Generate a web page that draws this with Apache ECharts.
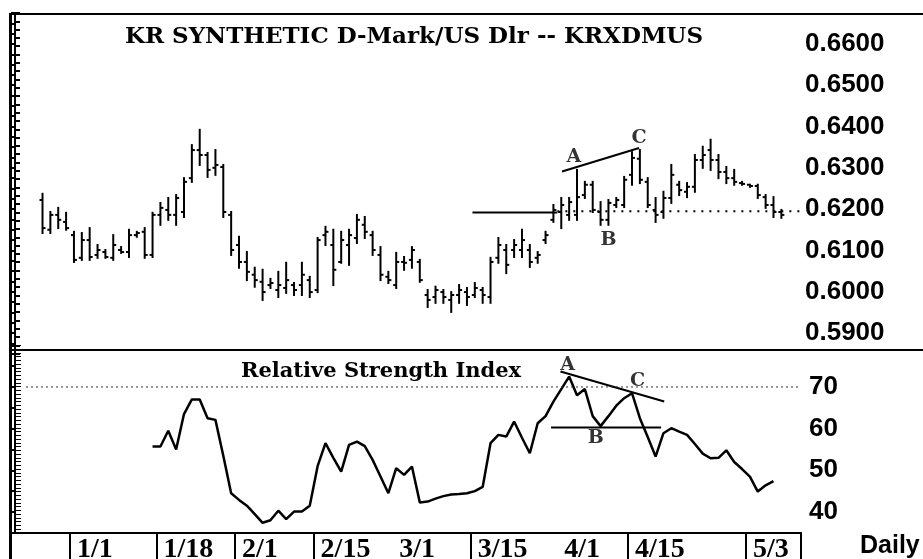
<!DOCTYPE html>
<html>
<head>
<meta charset="utf-8">
<script src="https://cdn.jsdelivr.net/npm/echarts/dist/echarts.min.js"></script>
<style>
  html, body { margin: 0; padding: 0; background: #fff; }
  #chart { width: 923px; height: 559px; }
</style>
</head>
<body>
<div id="chart"></div>
<script>
// trading day slots on the x axis
var categories = Array.from({ length: 100 }, function (_, i) { return String(i); });

// OHLC bars, first bar sits in slot barStart
var barStart = 3;
var opens = [
  0.6222, 0.6150, 0.6186, 0.6169, 0.6137, 0.6082, 0.6125, 0.6089, 0.6096, 0.6082,
  0.6101, 0.6096, 0.6137, 0.6145, 0.6089, 0.6186, 0.6198, 0.6186, 0.6193, 0.6275,
  0.6343, 0.6331, 0.6300, 0.6302, 0.6186, 0.6113, 0.6072, 0.6041, 0.6024, 0.6016,
  0.6004, 0.6009, 0.6016, 0.6016, 0.6028, 0.6004, 0.6137, 0.6113, 0.6072, 0.6113,
  0.6130, 0.6162, 0.6137, 0.6089, 0.6036, 0.6016, 0.6072, 0.6077, 0.6072, 0.5992,
  0.5987, 0.5999, 0.5980, 0.5992, 0.5999, 0.5992, 0.6004, 0.5987, 0.6082, 0.6101,
  0.6101, 0.6101, 0.6101, 0.6082, 0.6125, 0.6174, 0.6193, 0.6186, 0.6186, 0.6234,
  0.6259, 0.6193, 0.6174, 0.6210, 0.6210, 0.6283, 0.6322, 0.6266, 0.6198, 0.6193,
  0.6227, 0.6259, 0.6242, 0.6254, 0.6319, 0.6343, 0.6319, 0.6290, 0.6275, 0.6263,
  0.6259, 0.6256, 0.6229, 0.6210, 0.6193
];
var highs = [
  0.6237, 0.6193, 0.6203, 0.6191, 0.6145, 0.6142, 0.6154, 0.6113, 0.6101, 0.6137,
  0.6108, 0.6150, 0.6145, 0.6154, 0.6191, 0.6215, 0.6227, 0.6234, 0.6275, 0.6355,
  0.6392, 0.6336, 0.6343, 0.6307, 0.6193, 0.6133, 0.6096, 0.6058, 0.6053, 0.6031,
  0.6048, 0.6070, 0.6021, 0.6070, 0.6036, 0.6130, 0.6157, 0.6150, 0.6145, 0.6150,
  0.6186, 0.6181, 0.6145, 0.6108, 0.6048, 0.6094, 0.6084, 0.6108, 0.6077, 0.6004,
  0.6012, 0.6004, 0.5999, 0.6016, 0.6009, 0.6021, 0.6009, 0.6082, 0.6130, 0.6113,
  0.6125, 0.6150, 0.6113, 0.6096, 0.6145, 0.6210, 0.6227, 0.6227, 0.6295, 0.6266,
  0.6266, 0.6217, 0.6222, 0.6227, 0.6278, 0.6338, 0.6343, 0.6275, 0.6227, 0.6242,
  0.6307, 0.6266, 0.6263, 0.6331, 0.6351, 0.6368, 0.6331, 0.6302, 0.6295, 0.6266,
  0.6259, 0.6259, 0.6234, 0.6229, 0.6198
];
var lows = [
  0.6142, 0.6142, 0.6154, 0.6150, 0.6072, 0.6077, 0.6077, 0.6082, 0.6082, 0.6077,
  0.6094, 0.6084, 0.6133, 0.6082, 0.6084, 0.6162, 0.6174, 0.6162, 0.6181, 0.6266,
  0.6307, 0.6278, 0.6283, 0.6181, 0.6089, 0.6058, 0.6028, 0.6012, 0.5980, 0.6009,
  0.5987, 0.5997, 0.5992, 0.5992, 0.5987, 0.5999, 0.6113, 0.6016, 0.6070, 0.6065,
  0.6118, 0.6130, 0.6089, 0.6028, 0.6021, 0.6009, 0.6053, 0.6058, 0.6024, 0.5963,
  0.5973, 0.5973, 0.5951, 0.5973, 0.5968, 0.5987, 0.5973, 0.5973, 0.6070, 0.6045,
  0.6084, 0.6084, 0.6060, 0.6070, 0.6118, 0.6169, 0.6154, 0.6174, 0.6174, 0.6227,
  0.6193, 0.6162, 0.6162, 0.6205, 0.6205, 0.6259, 0.6263, 0.6205, 0.6169, 0.6179,
  0.6215, 0.6234, 0.6229, 0.6242, 0.6300, 0.6295, 0.6275, 0.6263, 0.6259, 0.6259,
  0.6254, 0.6227, 0.6203, 0.6181, 0.6179
];
var closes = [
  0.6154, 0.6186, 0.6174, 0.6154, 0.6077, 0.6125, 0.6084, 0.6101, 0.6084, 0.6113,
  0.6096, 0.6137, 0.6142, 0.6089, 0.6186, 0.6203, 0.6186, 0.6227, 0.6266, 0.6343,
  0.6331, 0.6295, 0.6307, 0.6193, 0.6101, 0.6072, 0.6048, 0.6028, 0.5999, 0.6021,
  0.6016, 0.6028, 0.6004, 0.6041, 0.5999, 0.6125, 0.6145, 0.6053, 0.6125, 0.6137,
  0.6174, 0.6145, 0.6101, 0.6041, 0.6028, 0.6072, 0.6070, 0.6101, 0.6028, 0.5980,
  0.6004, 0.5987, 0.5992, 0.6004, 0.5987, 0.6009, 0.5992, 0.6072, 0.6113, 0.6065,
  0.6113, 0.6125, 0.6072, 0.6089, 0.6137, 0.6198, 0.6210, 0.6217, 0.6229, 0.6259,
  0.6198, 0.6174, 0.6215, 0.6222, 0.6271, 0.6324, 0.6271, 0.6210, 0.6186, 0.6227,
  0.6283, 0.6246, 0.6254, 0.6319, 0.6331, 0.6319, 0.6290, 0.6275, 0.6266, 0.6261,
  0.6256, 0.6234, 0.6210, 0.6193, 0.6186
];

// RSI, first value in slot rsiStart
var rsiStart = 17;
var rsi = [
  55.7, 55.7, 59.5, 55.0, 63.5, 67.0, 67.0, 62.5, 62.1, 53.5,
  44.5, 42.9, 41.5, 39.5, 37.4, 38.0, 40.3, 38.3, 40.1, 40.1,
  41.5, 51.0, 56.5, 53.0, 49.7, 56.1, 56.9, 55.8, 52.5, 48.5,
  44.5, 50.5, 48.9, 50.9, 42.3, 42.5, 43.2, 43.8, 44.2, 44.3,
  44.5, 45.0, 46.0, 56.5, 58.5, 58.1, 61.7, 57.8, 54.1, 61.3,
  63.0, 66.5, 69.5, 72.5, 68.0, 69.5, 63.0, 60.6, 63.0, 65.5,
  67.3, 68.5, 62.5, 58.0, 53.3, 58.9, 60.1, 59.3, 58.5, 56.3,
  54.0, 52.9, 53.0, 54.8, 52.0, 50.3, 48.5, 44.9, 46.4, 47.4
];

// date axis: separators and labels (slot numbers)
var tickDays = [7, 18, 28, 38, 58, 78, 93];
var labelDays = [7, 18, 28, 38, 48, 58, 69, 78, 93];
var dateLabels = ['1/1', '1/18', '2/1', '2/15', '3/1', '3/15', '4/1', '4/15', '5/3'];

// hand drawn studies, x in slot units
var priceAC = [[69.6, 0.6291], [79.4, 0.6348]];
var priceSupport = [[58.2, 0.6192], [69.0, 0.6192]];
var priceSupportDots = [[69.0, 0.6195], [100, 0.6195]];
var rsiAC = [[69.4, 73.7], [82.6, 66.5]];
var rsiB = [[68.2, 60.3], [82.2, 60.3]];
var rsi70 = [[1.4, 70], [100, 70]];
var markNames = ['A', 'B', 'C'];
var priceMarkX = [71.1, 75.5, 79.4];
var priceMarkY = [0.6326, 0.6125, 0.6372];
var rsiMarkX = [70.3, 73.9, 79.2];
var rsiMarkY = [75.3, 57.8, 71.4];

var chart = echarts.init(document.getElementById('chart'));

var ohlc = opens.map(function (o, k) {
  return [barStart + k, o, highs[k], lows[k], closes[k]];
});
var rsiData = rsi.map(function (v, k) { return [rsiStart + k, v]; });
function marks(xs, ys) {
  return markNames.map(function (n, k) { return { name: n, value: [xs[k], ys[k]] }; });
}

function renderBar(params, api) {
  var x = api.value(0);
  var op = api.coord([x, api.value(1)]);
  var hi = api.coord([x, api.value(2)]);
  var lo = api.coord([x, api.value(3)]);
  var cl = api.coord([x, api.value(4)]);
  var st = { stroke: '#000', lineWidth: 2 };
  return {
    type: 'group',
    children: [
      { type: 'line', shape: { x1: hi[0], y1: hi[1] - 1, x2: lo[0], y2: lo[1] + 1 }, style: st },
      { type: 'line', shape: { x1: op[0] - 3, y1: op[1], x2: op[0], y2: op[1] }, style: st },
      { type: 'line', shape: { x1: cl[0], y1: cl[1], x2: cl[0] + 3, y2: cl[1] }, style: st }
    ]
  };
}

var black = '#000';
var numFont = { fontFamily: 'Liberation Sans', fontWeight: 'bold', fontSize: 26, color: black };
var markLabel = {
  show: true, position: 'inside', formatter: '{b}', color: black,
  fontFamily: 'DejaVu Serif', fontWeight: 'bold', fontSize: 19
};

var option = {
  animation: false,
  backgroundColor: '#fff',
  grid: [
    { left: 15, right: 122, top: 13, height: 340.6, outerBoundsMode: 'none' },
    { left: 15, right: 122, top: 345.3, height: 187.5, outerBoundsMode: 'none' }
  ],
  xAxis: [
    { type: 'category', gridIndex: 0, data: categories, boundaryGap: true, show: false },
    {
      type: 'category', gridIndex: 1, data: categories, boundaryGap: true, position: 'bottom',
      axisLine: { show: true, lineStyle: { color: black, width: 2 } },
      axisTick: {
        show: true, length: 27, inside: false,
        interval: function (i) { return tickDays.indexOf(i) >= 0; },
        lineStyle: { color: black, width: 2 }
      },
      axisLabel: {
        show: true, margin: 3, align: 'left', padding: [0, 0, 0, 3], hideOverlap: false,
        interval: function (i) { return labelDays.indexOf(i) >= 0; },
        formatter: function (v, i) {
          var k = labelDays.indexOf(i);
          return k >= 0 ? dateLabels[k] : '';
        },
        fontFamily: 'Liberation Serif', fontWeight: 'bold', fontSize: 28, color: black
      },
      splitLine: { show: false }
    },
    { type: 'value', gridIndex: 0, min: 0, max: 100, show: false },
    { type: 'value', gridIndex: 1, min: 0, max: 100, show: false }
  ],
  yAxis: [
    {
      type: 'value', gridIndex: 0, position: 'right', min: 0.585, max: 0.6675, interval: 0.0025,
      axisLine: { show: true, lineStyle: { color: black, width: 2 } },
      axisTick: { show: true, inside: true, length: 4, lineStyle: { color: black, width: 2 } },
      axisLabel: Object.assign({
        margin: 4, hideOverlap: false, showMinLabel: true, showMaxLabel: true,
        formatter: function (v) {
          var c = Math.round(v * 10000);
          return (c % 100 === 0 && c >= 5900 && c <= 6600) ? v.toFixed(4) : '';
        }
      }, numFont),
      splitLine: { show: false }
    },
    {
      type: 'value', gridIndex: 0, position: 'left', min: 0, max: 41, interval: 1,
      axisLine: { show: true, lineStyle: { color: black, width: 1.5 } },
      axisTick: { show: true, inside: true, length: 5, lineStyle: { color: black, width: 2 } },
      axisLabel: { show: false }, splitLine: { show: false }
    },
    {
      type: 'value', gridIndex: 1, position: 'right', min: 35, max: 80, interval: 5,
      axisLine: { show: true, lineStyle: { color: black, width: 2 } },
      axisTick: { show: true, inside: true, length: 4, lineStyle: { color: black, width: 2 } },
      axisLabel: Object.assign({
        margin: 8, hideOverlap: false,
        formatter: function (v) {
          return (v % 10 === 0 && v >= 40 && v <= 70) ? String(v) : '';
        }
      }, numFont),
      splitLine: { show: false }
    },
    {
      type: 'value', gridIndex: 1, position: 'left', min: 0, max: 50, interval: 1,
      axisLine: { show: true, lineStyle: { color: black, width: 1.5 } },
      axisTick: { show: true, inside: true, length: 6, lineStyle: { color: black, width: 1 } },
      axisLabel: { show: false }, splitLine: { show: false }
    }
  ],
  series: [
    {
      name: 'KRXDMUS', type: 'custom', xAxisIndex: 0, yAxisIndex: 0,
      renderItem: renderBar, encode: { x: 0, y: [1, 2, 3, 4] }, data: ohlc, silent: true
    },
    {
      name: 'RSI', type: 'line', xAxisIndex: 1, yAxisIndex: 2, data: rsiData,
      symbol: 'none', lineStyle: { color: black, width: 2.5 }, silent: true
    },
    {
      type: 'line', xAxisIndex: 2, yAxisIndex: 0, data: priceAC, symbol: 'none',
      lineStyle: { color: black, width: 2 }, silent: true
    },
    {
      type: 'line', xAxisIndex: 2, yAxisIndex: 0, data: priceSupport, symbol: 'none',
      lineStyle: { color: black, width: 2 }, silent: true
    },
    {
      type: 'line', xAxisIndex: 2, yAxisIndex: 0, data: priceSupportDots, symbol: 'none',
      lineStyle: { color: black, width: 2, type: [2, 6] }, silent: true
    },
    {
      type: 'line', xAxisIndex: 3, yAxisIndex: 2, data: rsiAC, symbol: 'none',
      lineStyle: { color: black, width: 2 }, silent: true
    },
    {
      type: 'line', xAxisIndex: 3, yAxisIndex: 2, data: rsiB, symbol: 'none',
      lineStyle: { color: black, width: 2 }, silent: true
    },
    {
      type: 'line', xAxisIndex: 3, yAxisIndex: 2, data: rsi70, symbol: 'none',
      lineStyle: { color: '#333', width: 1, type: [2, 3] }, silent: true
    },
    {
      type: 'scatter', xAxisIndex: 2, yAxisIndex: 0, data: marks(priceMarkX, priceMarkY),
      symbolSize: 0, label: markLabel, silent: true
    },
    {
      type: 'scatter', xAxisIndex: 3, yAxisIndex: 2, data: marks(rsiMarkX, rsiMarkY),
      symbolSize: 0, label: markLabel, silent: true
    }
  ],
  graphic: [
    { type: 'line', shape: { x1: 9, y1: 14, x2: 923, y2: 14 }, style: { stroke: black, lineWidth: 2 } },
    { type: 'line', shape: { x1: 10, y1: 350, x2: 923, y2: 350 }, style: { stroke: black, lineWidth: 2 } },
    { type: 'line', shape: { x1: 10.5, y1: 13, x2: 10.5, y2: 559 }, style: { stroke: black, lineWidth: 3 } },
    {
      type: 'text', x: 414, y: 37,
      style: {
        text: 'KR SYNTHETIC D-Mark/US Dlr -- KRXDMUS', fill: black,
        font: 'bold 23px "DejaVu Serif"', textAlign: 'center', textVerticalAlign: 'middle'
      }
    },
    {
      type: 'text', x: 381, y: 372,
      style: {
        text: 'Relative Strength Index', fill: black,
        font: 'bold 21px "DejaVu Serif"', textAlign: 'center', textVerticalAlign: 'middle'
      }
    },
    {
      type: 'text', x: 860, y: 546,
      style: {
        text: 'Daily', fill: black,
        font: 'bold 25px "Liberation Sans"', textAlign: 'left', textVerticalAlign: 'middle'
      }
    }
  ]
};

chart.setOption(option);
</script>
</body>
</html>
